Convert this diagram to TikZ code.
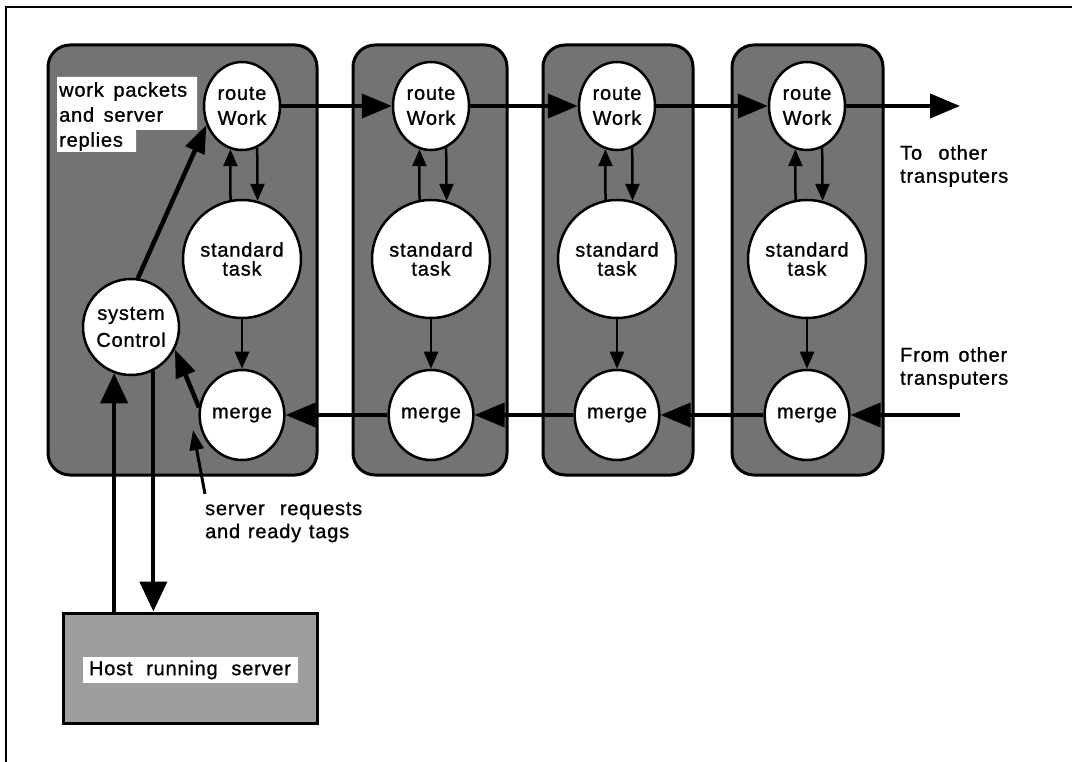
\documentclass[tikz,border=0pt]{standalone}
\usepackage{fontspec}
\setmainfont{Liberation Sans}[LetterSpace=4, FakeBold=1]
\usetikzlibrary{shapes.geometric, arrows.meta}
\definecolor{panelGray}{gray}{0.45}
\definecolor{hostGray}{gray}{0.62}

\begin{document}
\begin{tikzpicture}[
        x=1pt,
        y=-1pt,
        font=\fontsize{20}{25}\selectfont,
        panel/.style={rectangle, draw=black, line width=3pt, fill=panelGray,
                      rounded corners=22pt, minimum height=430pt, inner sep=0pt},
        proc/.style={ellipse, draw=black, line width=2.5pt, fill=white,
                     align=center, inner sep=0pt},
        routeproc/.style={proc, minimum width=76pt, minimum height=88pt},
        taskproc/.style={proc, minimum width=98pt, minimum height=118pt,
                         font=\fontsize{20}{19}\selectfont},
        mergeproc/.style={proc, minimum width=74pt, minimum height=90pt},
        ctrlproc/.style={proc, circle, minimum size=96pt,
                         font=\fontsize{20}{27}\selectfont},
        hostbox/.style={rectangle, draw=black, line width=3pt, fill=hostGray,
                        minimum width=254pt, minimum height=110pt},
        tag/.style={fill=white, inner xsep=3pt, inner ysep=3pt},
        note/.style={align=left, inner sep=0pt, font=\fontsize{20}{23}\selectfont},
        link/.style={draw=black, line width=4pt, -{Triangle[length=30pt, width=24pt]}},
        innerlink/.style={draw=black, line width=2.5pt, -{Triangle[length=17pt, width=14pt]}},
        ctl/.style={draw=black, line width=4.5pt, -{Triangle[length=28pt, width=20pt]}},
        hostlink/.style={draw=black, line width=4pt, -{Triangle[length=30pt, width=27pt]}},
        pointer/.style={draw=black, line width=3pt, -{Triangle[length=20pt, width=14pt]}}
    ]

    \useasboundingbox (0,0) rectangle (1072,762);
    \draw[line width=1.5pt] (6,762) -- (6,7) -- (1072,7);

    % Transputers
    \node[panel, minimum width=269pt] (p1) at (182.5,260) {};
    \node[panel, minimum width=154pt] (p2) at (430,260) {};
    \node[panel, minimum width=150pt] (p3) at (618,260) {};
    \node[panel, minimum width=151pt] (p4) at (807.5,260) {};

    % Host
    \node[hostbox] (host) at (190,668) {};
    \node[tag, minimum width=215pt, minimum height=26pt] (hostlbl) at (190,670)
        {\makebox[202pt][s]{Host running server}};

    % Label inside the first transputer
    \fill[white] (57,77) -- (197,77) -- (197,130) -- (136,130) -- (136,152) -- (57,152) -- cycle;
    \node[note, anchor=north west, font=\fontsize{20}{25}\selectfont] (wp) at (59,82)
        {\makebox[128pt][s]{work packets}\\\makebox[104pt][s]{and server}\\replies};

    % Processes
    \node[routeproc] (rw1) at (242,106) {route\\Work};
    \node[taskproc]  (st1) at (242,259) {standard\\task};
    \node[mergeproc] (mg1) at (242,415) {merge};
    \node[ctrlproc]  (sc)  at (131,327) {system\\Control};

    \node[routeproc] (rw2) at (431,106) {route\\Work};
    \node[taskproc]  (st2) at (431,259) {standard\\task};
    \node[mergeproc] (mg2) at (431,415) {merge};

    \node[routeproc] (rw3) at (617,106) {route\\Work};
    \node[taskproc]  (st3) at (617,259) {standard\\task};
    \node[mergeproc] (mg3) at (617,415) {merge};

    \node[routeproc] (rw4) at (807,106) {route\\Work};
    \node[taskproc]  (st4) at (807,259) {standard\\task};
    \node[mergeproc] (mg4) at (807,415) {merge};

    % Outside labels
    \node[note, anchor=north west] (toLbl) at (900,145)
        {\makebox[87pt][s]{To other}\\transputers};
    \node[note, anchor=north west] (fromLbl) at (900,347)
        {\makebox[107pt][s]{From other}\\transputers};
    \node[note, anchor=north west] (req) at (205,502)
        {\makebox[157pt][s]{server requests}\\\makebox[144pt][s]{and ready tags}};

    \coordinate (toOut)   at (960,106);
    \coordinate (fromOut) at (960,415);
    \coordinate (reqtip)  at (193,430);

    % Work chain
    \draw[link] (rw1.east) -- (rw2.west);
    \draw[link] (rw2.east) -- (rw3.west);
    \draw[link] (rw3.east) -- (rw4.west);
    \draw[link] (rw4.east) -- (toOut);

    % Replies chain
    \draw[link] (fromOut) -- (mg4.east);
    \draw[link] (mg4.west) -- (mg3.east);
    \draw[link] (mg3.west) -- (mg2.east);
    \draw[link] (mg2.west) -- (mg1.east);

    % Inside each transputer
    \draw[innerlink] (st1.101) -- (rw1.255);
    \draw[innerlink] (rw1.290) -- (st1.75);
    \draw[innerlink] (st1) -- (mg1);
    \draw[innerlink] (st2.101) -- (rw2.255);
    \draw[innerlink] (rw2.290) -- (st2.75);
    \draw[innerlink] (st2) -- (mg2);
    \draw[innerlink] (st3.101) -- (rw3.255);
    \draw[innerlink] (rw3.290) -- (st3.75);
    \draw[innerlink] (st3) -- (mg3);
    \draw[innerlink] (st4.101) -- (rw4.255);
    \draw[innerlink] (rw4.290) -- (st4.75);
    \draw[innerlink] (st4) -- (mg4);

    % System control and host
    \draw[ctl] (sc.82) -- (rw1.208);
    \draw[ctl] (mg1.170) -- (sc.-27);
    \draw[hostlink] (host.north -| sc.250) -- (sc.250);
    \draw[hostlink] (sc.297) -- (sc.297 |- host.north);
    \draw[pointer] ([yshift=8pt]req.north west) -- (reqtip);

\end{tikzpicture}
\end{document}
